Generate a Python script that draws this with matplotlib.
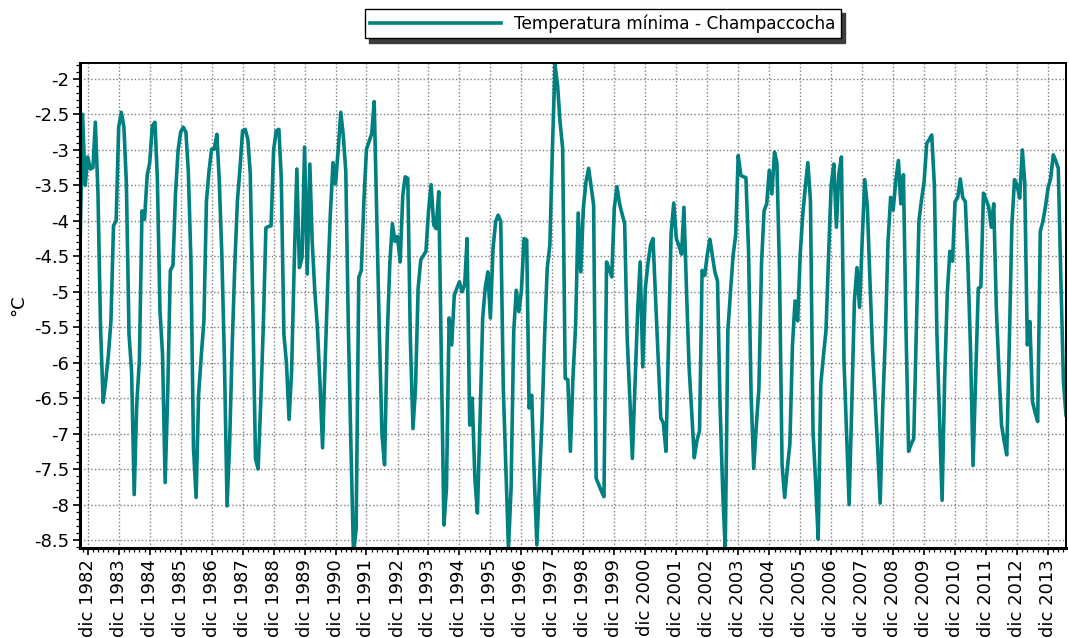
import matplotlib
matplotlib.use("Agg")
import matplotlib.pyplot as plt
import matplotlib.dates as mdates
from matplotlib.ticker import MultipleLocator, FuncFormatter
import pandas as pd

plt.rcParams['font.family'] = ['DejaVu Sans']
plt.rcParams['axes.unicode_minus'] = False

# Monthly minimum temperature (°C), Sep 1982 .. Jul 2014
t1982 = [-4.40, -2.50, -3.50, -3.10]  # Sep-Dec
t1983 = [-3.27, -3.25, -2.61, -3.62, -5.50, -6.56, -6.26, -5.90, -5.41, -4.07, -4.00, -2.68]
t1984 = [-2.47, -2.68, -3.48, -5.60, -6.12, -7.86, -6.59, -5.97, -3.86, -3.98, -3.36, -3.18]
t1985 = [-2.66, -2.61, -3.40, -5.27, -5.88, -7.69, -6.44, -4.70, -4.63, -3.62, -3.00, -2.75]
t1986 = [-2.68, -2.75, -3.30, -4.56, -7.20, -7.90, -6.44, -5.90, -5.41, -3.72, -3.29, -2.99]
t1987 = [-2.99, -2.78, -3.43, -4.50, -5.97, -8.02, -7.15, -5.74, -4.60, -3.72, -3.25, -2.73]
t1988 = [-2.71, -2.85, -3.34, -5.30, -7.35, -7.50, -6.60, -5.50, -4.10, -4.08, -4.07, -3.00]
t1989 = [-2.73, -2.71, -3.39, -5.60, -6.00, -6.80, -6.12, -4.60, -3.27, -4.66, -4.52, -2.96]
t1990 = [-4.75, -3.20, -4.30, -5.00, -5.50, -6.30, -7.20, -5.97, -4.85, -3.90, -3.18, -3.48]
t1991 = [-3.00, -2.47, -2.78, -3.30, -5.50, -7.20, -8.70, -8.34, -4.80, -4.70, -3.70, -2.99]
t1992 = [-2.88, -2.77, -2.32, -4.01, -5.60, -7.02, -7.44, -5.66, -4.60, -4.04, -4.29, -4.22]
t1993 = [-4.58, -3.64, -3.38, -3.40, -5.66, -6.93, -6.36, -4.95, -4.55, -4.49, -4.43, -3.87]
t1994 = [-3.49, -4.06, -4.11, -3.59, -5.89, -8.29, -7.77, -5.37, -5.75, -5.05, -4.95, -4.86]
t1995 = [-5.00, -4.90, -4.25, -6.88, -6.50, -7.63, -8.12, -6.80, -5.37, -4.95, -4.72, -5.37]
t1996 = [-4.39, -4.01, -3.92, -4.01, -6.36, -7.50, -8.62, -7.77, -5.56, -4.98, -5.28, -4.98]
t1997 = [-4.25, -4.27, -6.64, -6.46, -7.60, -8.57, -7.68, -6.80, -5.60, -4.67, -4.34, -3.00]
t1998 = [-1.80, -2.10, -2.60, -2.98, -6.22, -6.24, -7.25, -6.20, -5.47, -3.89, -4.72, -3.82]
t1999 = [-3.45, -3.26, -3.50, -3.78, -7.63, -7.72, -7.81, -7.89, -4.58, -4.68, -4.79, -3.82]
t2000 = [-3.52, -3.76, -3.90, -4.04, -5.66, -6.50, -7.35, -6.30, -5.28, -4.58, -6.06, -4.95]
t2001 = [-4.60, -4.34, -4.25, -5.10, -5.90, -6.78, -6.85, -7.25, -5.70, -4.17, -3.75, -4.25]
t2002 = [-4.35, -4.47, -3.81, -5.00, -6.07, -6.70, -7.34, -7.10, -6.96, -4.70, -4.77, -4.48]
t2003 = [-4.26, -4.50, -4.72, -4.85, -6.60, -7.80, -8.65, -5.55, -5.00, -4.50, -4.20, -3.08]
t2004 = [-3.36, -3.38, -3.39, -4.43, -6.46, -7.49, -6.90, -6.36, -4.60, -3.86, -3.76, -3.29]
t2005 = [-3.62, -3.03, -3.18, -4.72, -7.44, -7.90, -7.50, -7.15, -5.75, -5.13, -5.41, -4.47]
t2006 = [-3.90, -3.50, -3.18, -3.72, -6.96, -7.70, -8.49, -6.30, -5.90, -5.55, -4.47, -3.50]
t2007 = [-3.20, -4.09, -3.34, -3.10, -5.97, -7.00, -8.00, -6.60, -5.13, -4.66, -5.22, -4.30]
t2008 = [-3.42, -3.80, -4.80, -5.80, -6.50, -7.20, -7.98, -6.60, -5.60, -4.30, -3.67, -3.85]
t2009 = [-3.43, -3.15, -3.76, -3.35, -5.50, -7.25, -7.15, -7.07, -5.50, -4.00, -3.70, -3.45]
t2010 = [-2.91, -2.85, -2.79, -3.50, -5.60, -6.80, -7.94, -6.20, -5.00, -4.43, -4.57, -3.73]
t2011 = [-3.67, -3.41, -3.67, -3.73, -4.60, -5.80, -7.45, -6.20, -4.95, -4.93, -3.61, -3.70]
t2012 = [-3.80, -4.09, -3.76, -5.25, -6.10, -6.88, -7.10, -7.30, -5.70, -4.05, -3.42, -3.50]
t2013 = [-3.68, -3.00, -3.45, -5.75, -5.42, -6.55, -6.70, -6.83, -4.15, -4.01, -3.80, -3.54]
t2014 = [-3.40, -3.07, -3.15, -3.26, -4.80, -6.27, -6.74]  # Jan-Jul

start_month = '1982-09-01'
series_label = 'Temperatura mínima - Champaccocha'
y_label = '°C'
tick_prefix = 'dic'

values = (t1982 + t1983 + t1984 + t1985 + t1986 + t1987 + t1988 + t1989 + t1990 +
          t1991 + t1992 + t1993 + t1994 + t1995 + t1996 + t1997 + t1998 + t1999 +
          t2000 + t2001 + t2002 + t2003 + t2004 + t2005 + t2006 + t2007 + t2008 +
          t2009 + t2010 + t2011 + t2012 + t2013 + t2014)
dates = pd.date_range(start_month, periods=len(values), freq='MS')

W, H = 1069, 638
fig = plt.figure(figsize=(W / 100, H / 100), dpi=100)
ax = fig.add_axes([80 / W, 1 - 548 / H, (1066 - 80) / W, (548 - 63) / H])

teal = '#008080'
ax.plot(dates, values, color=teal, lw=2.6, label=series_label)

ax.set_xlim(dates[0], dates[-1])
ax.set_ylim(-8.613, -1.775)

ax.xaxis.set_major_locator(mdates.MonthLocator(bymonth=12))
ax.xaxis.set_minor_locator(mdates.MonthLocator(bymonth=[2, 4, 6, 8, 10, 12]))
ax.xaxis.set_major_formatter(FuncFormatter(
    lambda x, pos: f"{tick_prefix} {mdates.num2date(x).year}"))
ax.yaxis.set_major_locator(MultipleLocator(0.5))
ax.yaxis.set_minor_locator(MultipleLocator(0.1))
ax.yaxis.set_major_formatter(FuncFormatter(lambda v, pos: f"{v:g}"))

ax.tick_params(axis='both', which='major', direction='out', length=5, width=1.2,
               labelsize=13, pad=3)
ax.tick_params(axis='both', which='minor', direction='out', length=3, width=0.9)
ax.tick_params(axis='x', which='major', rotation=90)

ax.grid(True, which='major', color='#808080', lw=1.0, linestyle=(0, (1, 1.6)))
ax.set_axisbelow(True)

for side in ('left', 'bottom'):
    ax.spines[side].set_linewidth(2.2)
for side in ('top', 'right'):
    ax.spines[side].set_linewidth(1.4)

ax.set_ylabel(y_label, fontsize=13)
ax.yaxis.set_label_coords(-0.054, 0.5)

leg = fig.legend(loc='center', bbox_to_anchor=(603 / W, 1 - 23.5 / H),
                 fontsize=12.2, frameon=True, fancybox=False, framealpha=1,
                 edgecolor='black', handlelength=7.7, handletextpad=0.8,
                 borderpad=0.33, borderaxespad=0,
                 shadow={'ox': 3, 'oy': -3, 'color': '#3c3c3c', 'alpha': 1})
leg.get_frame().set_linewidth(1.0)

fig.savefig('out.png', dpi=100)
